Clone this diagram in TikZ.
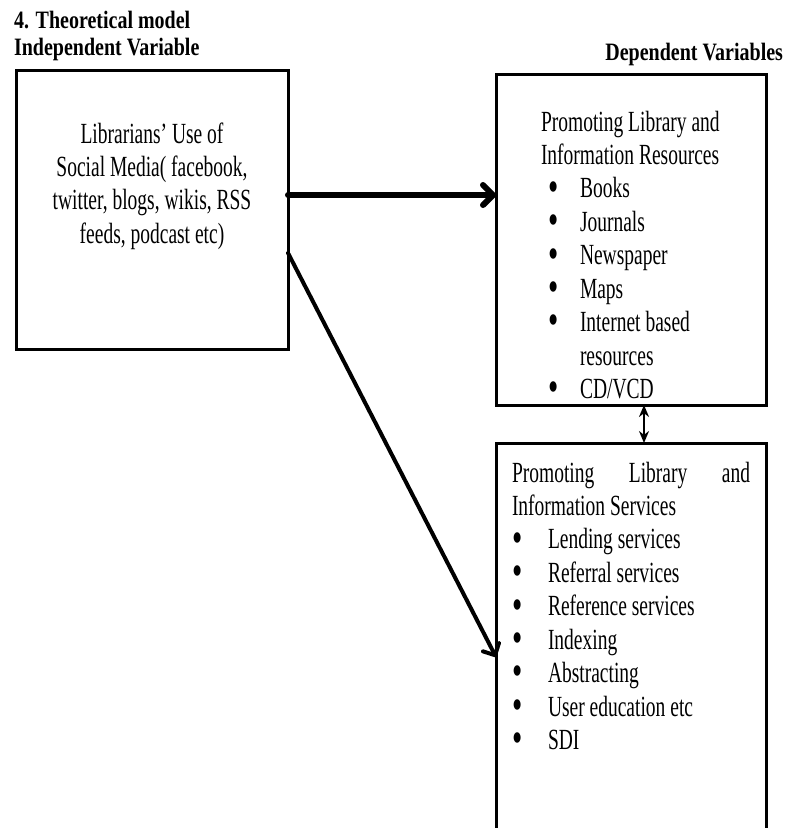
\documentclass[tikz,border=0pt]{standalone}
\usepackage{fontspec}
\setmainfont{Liberation Serif}
\usetikzlibrary{arrows.meta}
\newcommand{\bodysize}{\fontsize{19.5}{22.3}\selectfont}
\newcommand{\tall}[1]{\scalebox{1}[1.5]{#1}}
\newcommand{\bul}[2]{\makebox[#1][l]{\hspace*{#2}\smash{\raisebox{-0.11em}{\scalebox{1.5}{\textbullet}}}}}
\begin{document}
\begin{tikzpicture}[x=1pt,y=-1pt,
  box/.style={draw, line width=3pt, inner sep=0pt, outer sep=0pt, rectangle},
  txt/.style={inner sep=0pt, outer sep=0pt, font=\bodysize},
  ttl/.style={inner sep=0pt, outer sep=0pt, font=\bfseries\fontsize{20}{22}\selectfont},
  bigarrow/.style={line width=6pt, line cap=round,
    -{Straight Barb[length=10pt,width=20pt,line cap=round,line join=round]}},
  diagarrow/.style={line width=4pt, line cap=round,
    -{Straight Barb[length=9pt,width=18pt,line cap=round,line join=round]}},
  dblarrow/.style={line width=2pt,
    {Stealth[length=12pt,width=10pt]}-{Stealth[length=12pt,width=10pt]}}
]
\clip (0,0) rectangle (786,828);
\fill[white] (0,0) rectangle (786,828);

% boxes
\node[box, minimum width=272pt, minimum height=279pt] (L) at (152,209.5) {};
\node[box, minimum width=270pt, minimum height=331pt] (U) at (631,239.5) {};
\node[box, minimum width=270pt, minimum height=400pt] (D) at (631,643) {};

% titles
\node[ttl, anchor=base west] (t1) at (14,28.5) {\scalebox{1}[1.25]{4. Theoretical model}};
\node[ttl, anchor=base west] (t2) at (14,55) {\scalebox{1}[1.25]{Independent Variable}};
\node[ttl, anchor=base east] (t3) at (783,60) {\scalebox{1}[1.25]{Dependent Variables}};

% left box text
\node[txt, anchor=base] (Ltext) at (152,143) {\tall{\begin{tabular}[t]{@{}c@{}}Librarians’ Use of\\ Social Media( facebook,\\ twitter, blogs, wikis, RSS\\ feeds, podcast etc)\end{tabular}}};

% upper right text
\node[txt, anchor=base west] (Utext) at (541,131) {\tall{\begin{tabular}[t]{@{}l@{}}Promoting Library and\\ Information Resources\\
\bul{39pt}{7pt}Books\\
\bul{39pt}{7pt}Journals\\
\bul{39pt}{7pt}Newspaper\\
\bul{39pt}{7pt}Maps\\
\bul{39pt}{7pt}Internet based\\
\hspace*{39pt}resources\\
\bul{39pt}{7pt}CD/VCD\end{tabular}}};

% lower right text
\node[txt, anchor=base west] (Dtext) at (512,482) {\tall{\begin{tabular}[t]{@{}l@{}}\makebox[238pt][s]{Promoting Library and}\\ Information Services\\
\bul{36pt}{0pt}Lending services\\
\bul{36pt}{0pt}Referral services\\
\bul{36pt}{0pt}Reference services\\
\bul{36pt}{0pt}Indexing\\
\bul{36pt}{0pt}Abstracting\\
\bul{36pt}{0pt}User education etc\\
\bul{36pt}{0pt}SDI\end{tabular}}};

% connectors
\draw[bigarrow] ([yshift=14.5pt]L.east) -- ([yshift=44.5pt]U.west);
\draw[diagarrow] ([yshift=-43.5pt]L.east) -- ([yshift=-14pt]D.west);
\draw[dblarrow] ([xshift=13pt]U.south) -- ([xshift=13pt]D.north);
\end{tikzpicture}
\end{document}
